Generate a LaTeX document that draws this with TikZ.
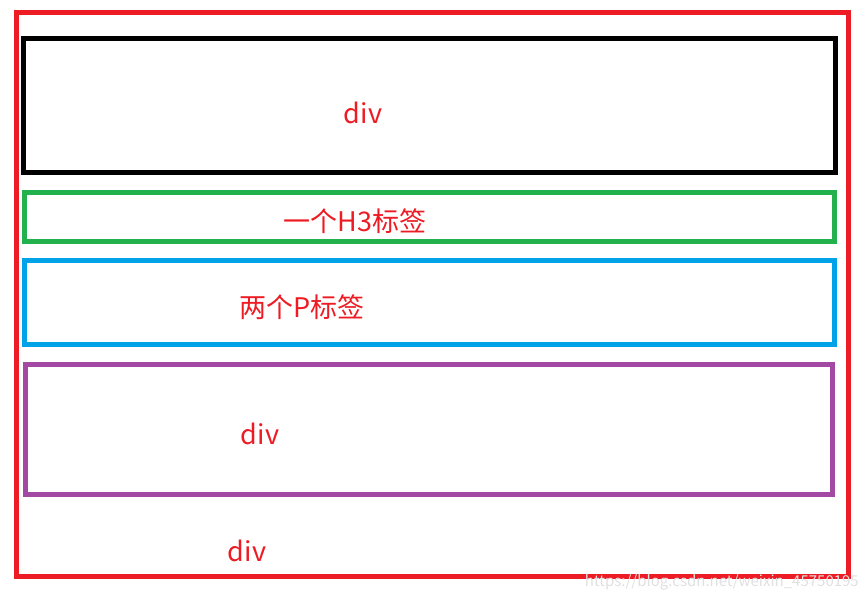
\documentclass[tikz,border=0pt]{standalone}
\usepackage{fontspec}
\setmainfont{Noto Sans CJK SC}
\definecolor{paintred}{RGB}{237,28,36}
\definecolor{paintgreen}{RGB}{34,177,76}
\definecolor{paintblue}{RGB}{0,162,232}
\definecolor{paintpurple}{RGB}{163,73,164}
\begin{document}
\begin{tikzpicture}[x=1pt, y=-1pt]
	\tikzstyle{box} = [ draw, rectangle, line width=5pt, inner sep=0pt];
	\tikzstyle{label} = [ text=paintred, font={\fontsize{27}{32}\selectfont}, inner sep=0pt];
	\tikzstyle{watermark} = [ text=black!12, font={\fontsize{15}{18}\selectfont}, inner sep=0pt];

	\useasboundingbox (0,0) rectangle (868,600);

	% outer div and the boxes inside it
	\node[box, draw=paintred, minimum width=832pt, minimum height=564pt] (outer) at (432,294.5) {};
	\node[box, draw=black, minimum width=812pt, minimum height=134pt] (top) at (429.5,105.5) {};
	\node[box, draw=paintgreen, minimum width=810pt, minimum height=49pt] (h3) at (429.5,217) {};
	\node[box, draw=paintblue, minimum width=810pt, minimum height=84pt] (ps) at (429,302) {};
	\node[box, draw=paintpurple, minimum width=807pt, minimum height=130pt] (inner) at (428.5,429) {};

	\node[label] (topdiv) at (363,113) {div};
	\node[label] (h3txt) at (355,221) {一个H3标签};
	\node[label] (pstxt) at (302,307) {两个P标签};
	\node[label] (innerdiv) at (260,434) {div};
	\node[label] (outerdiv) at (247,551) {div};

	\node[watermark, anchor=east] (wm) at (859,582) {https://blog.csdn.net/weixin\_45750195};
\end{tikzpicture}
\end{document}
